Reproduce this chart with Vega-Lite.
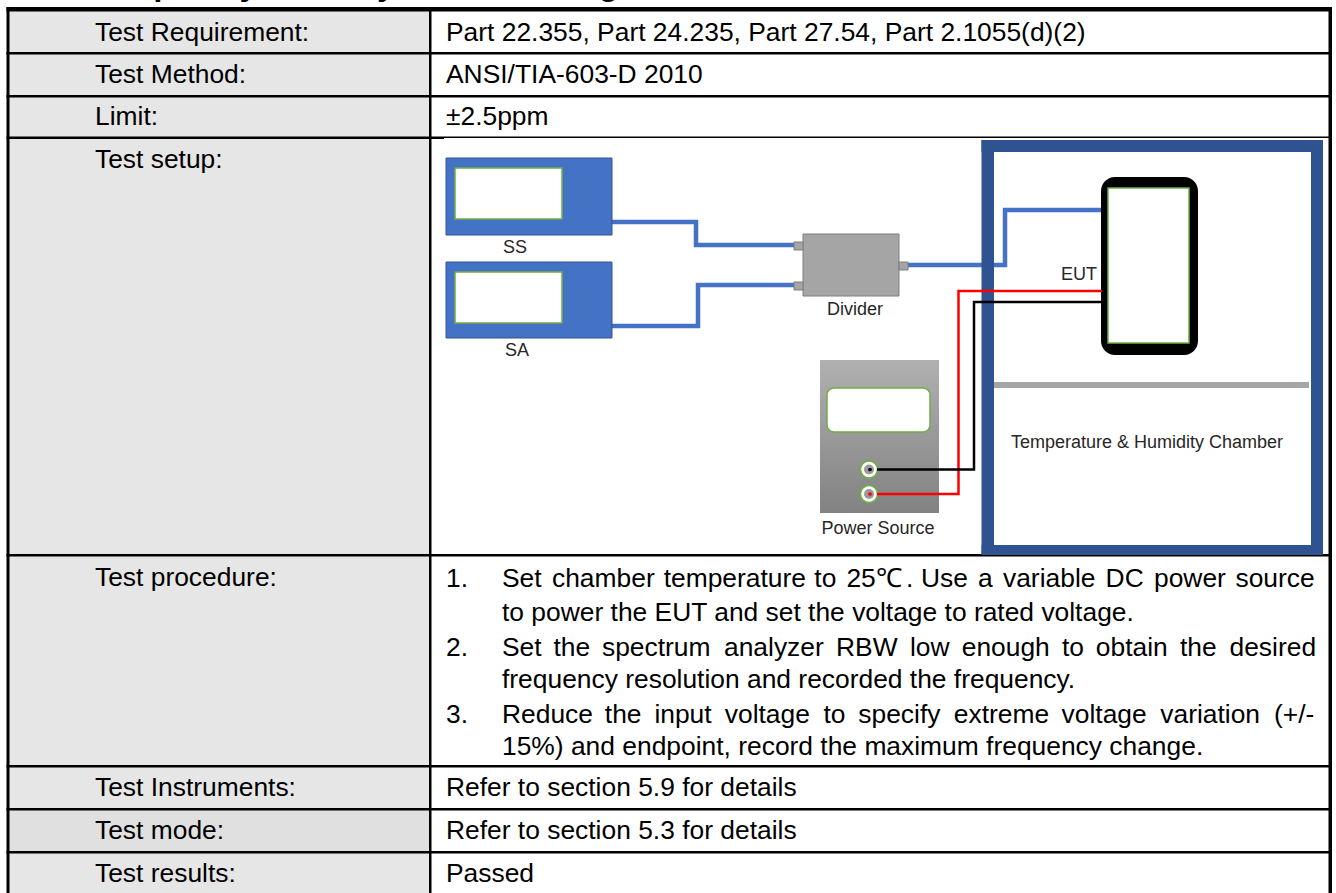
{"$schema":"https://vega.github.io/schema/vega-lite/v6.json","width":1336,"height":893,"autosize":{"type":"none"},"padding":0,"background":"white","view":{"stroke":null},
"datasets":{
"cells":[{"x":9,"x2":429,"y":11,"y2":893}],
"cellDark":[{"x":9,"x2":429,"y":810,"y2":852}],
"rules":[{"x":6.5,"x2":1332,"y":7,"y2":11.5},{"x":6.5,"x2":9.5,"y":7,"y2":893},{"x":1328.5,"x2":1332,"y":7,"y2":893},{"x":429,"x2":431.5,"y":7,"y2":893},{"x":6.5,"x2":1332,"y":52,"y2":54.5},{"x":6.5,"x2":1332,"y":95,"y2":97.5},{"x":6.5,"x2":444,"y":136.5,"y2":139},{"x":444,"x2":1332,"y":136.5,"y2":138},{"x":6.5,"x2":1332,"y":554,"y2":556.5},{"x":6.5,"x2":1332,"y":765,"y2":767.5},{"x":6.5,"x2":1332,"y":808,"y2":810.5},{"x":6.5,"x2":1332,"y":851,"y2":853.5}],
"blue":[{"id":"ss","i":1,"x":612,"y":222},{"id":"ss","i":2,"x":696,"y":222},{"id":"ss","i":3,"x":696,"y":245},{"id":"ss","i":4,"x":794,"y":245},{"id":"sa","i":1,"x":612,"y":326},{"id":"sa","i":2,"x":698,"y":326},{"id":"sa","i":3,"x":698,"y":285},{"id":"sa","i":4,"x":794,"y":285},{"id":"eut","i":1,"x":908,"y":265},{"id":"eut","i":2,"x":1005,"y":265},{"id":"eut","i":3,"x":1005,"y":210},{"id":"eut","i":4,"x":1102,"y":210}],
"frame":[{"x":981.5,"x2":1323,"y":140,"y2":152},{"x":981.5,"x2":1323,"y":545,"y2":555},{"x":981.5,"x2":994,"y":140,"y2":555},{"x":1311,"x2":1323,"y":140,"y2":555}],
"instruments":[{"x":446,"x2":612,"y":158,"y2":235},{"x":446,"x2":612,"y":262,"y2":338}],
"screens":[{"x":455,"x2":562,"y":168,"y2":219},{"x":455,"x2":562,"y":272,"y2":323}],
"greys":[{"x":803,"x2":899,"y":234,"y2":296},{"x":794,"x2":803,"y":242,"y2":250},{"x":794,"x2":803,"y":282,"y2":290},{"x":899,"x2":908,"y":262,"y2":270}],
"bar":[{"x":994,"x2":1309,"y":382,"y2":388}],
"phone":[{"x":1101,"x2":1198,"y":177,"y2":355}],
"phoneScreen":[{"x":1108,"x2":1189,"y":188,"y2":343}],
"power":[{"x":820,"x2":939,"y":360,"y2":513}],
"powerScreen":[{"x":827,"x2":930,"y":388,"y2":432}],
"redWire":[{"i":1,"x":1102,"y":291},{"i":2,"x":958.5,"y":291},{"i":3,"x":958.5,"y":494},{"i":4,"x":877,"y":494}],
"blackWire":[{"i":1,"x":1102,"y":302},{"i":2,"x":974,"y":302},{"i":3,"x":974,"y":469.5},{"i":4,"x":877,"y":469.5}],
"terminals":[{"x":869,"y":469.5},{"x":869,"y":494}],
"pinBlack":[{"x":870,"y":469.5}],
"pinRed":[{"x":870,"y":494}],
"title":[{"x":91,"y":-5,"t":"Frequency Stability versus Voltage"}],
"body":[{"x":95,"y":41,"t":"Test Requirement:"},{"x":95,"y":83,"t":"Test Method:"},{"x":95,"y":125,"t":"Limit:"},{"x":95,"y":168,"t":"Test setup:"},{"x":95,"y":586,"t":"Test procedure:"},{"x":95,"y":796,"t":"Test Instruments:"},{"x":95,"y":839,"t":"Test mode:"},{"x":95,"y":882,"t":"Test results:"},
{"x":446,"y":41,"t":"Part 22.355, Part 24.235, Part 27.54, Part 2.1055(d)(2)"},{"x":446,"y":83,"t":"ANSI/TIA-603-D 2010"},{"x":446,"y":125,"t":"±2.5ppm"},{"x":446,"y":796,"t":"Refer to section 5.9 for details"},{"x":446,"y":839,"t":"Refer to section 5.3 for details"},{"x":446,"y":882,"t":"Passed"},
{"x":446,"y":587,"t":"1."},{"x":502,"y":587,"t":"Set"},{"x":552,"y":587,"t":"chamber"},{"x":663.7,"y":587,"t":"temperature"},{"x":814.3,"y":587,"t":"to"},{"x":846.4,"y":587,"t":"25℃"},{"x":906,"y":587,"t":"."},{"x":921,"y":587,"t":"Use"},{"x":978,"y":587,"t":"a"},{"x":1003,"y":587,"t":"variable"},{"x":1105.6,"y":587,"t":"DC"},{"x":1154,"y":587,"t":"power"},{"x":1235.5,"y":587,"t":"source"},
{"x":502,"y":621,"t":"to power the EUT and set the voltage to rated voltage."},
{"x":446,"y":656,"t":"2."},{"x":502,"y":656,"t":"Set"},{"x":553.5,"y":656,"t":"the"},{"x":602,"y":656,"t":"spectrum"},{"x":724,"y":656,"t":"analyzer"},{"x":836,"y":656,"t":"RBW"},{"x":910,"y":656,"t":"low"},{"x":961.7,"y":656,"t":"enough"},{"x":1062,"y":656,"t":"to"},{"x":1095.8,"y":656,"t":"obtain"},{"x":1180,"y":656,"t":"the"},{"x":1229.5,"y":656,"t":"desired"},
{"x":502,"y":688,"t":"frequency resolution and recorded the frequency."},
{"x":446,"y":723,"t":"3."},{"x":502,"y":723,"t":"Reduce"},{"x":604.8,"y":723,"t":"the"},{"x":654.4,"y":723,"t":"input"},{"x":724.8,"y":723,"t":"voltage"},{"x":823.5,"y":723,"t":"to"},{"x":858.3,"y":723,"t":"specify"},{"x":953.8,"y":723,"t":"extreme"},{"x":1061.6,"y":723,"t":"voltage"},{"x":1160.3,"y":723,"t":"variation"},{"x":1274,"y":723,"t":"(+/-"},
{"x":502,"y":755,"t":"15%) and endpoint, record the maximum frequency change."}],
"captions":[{"x":515,"y":253,"t":"SS"},{"x":517,"y":356,"t":"SA"},{"x":855,"y":315,"t":"Divider"},{"x":1079,"y":280,"t":"EUT"},{"x":878,"y":534,"t":"Power Source"},{"x":1147,"y":448,"t":"Temperature & Humidity Chamber"}]
},
"encoding":{"x":{"field":"x","type":"quantitative","scale":{"domain":[0,1336],"nice":false,"zero":false},"axis":null},"y":{"field":"y","type":"quantitative","scale":{"domain":[893,0],"nice":false,"zero":false},"axis":null}},
"layer":[
{"data":{"name":"cells"},"mark":{"type":"rect","color":"#e6e6e6"},"encoding":{"x2":{"field":"x2"},"y2":{"field":"y2"}}},
{"data":{"name":"cellDark"},"mark":{"type":"rect","color":"#e0e0e0"},"encoding":{"x2":{"field":"x2"},"y2":{"field":"y2"}}},
{"data":{"name":"rules"},"mark":{"type":"rect","color":"#000000"},"encoding":{"x2":{"field":"x2"},"y2":{"field":"y2"}}},
{"data":{"name":"title"},"mark":{"type":"text","font":"Liberation Sans","fontWeight":"bold","fontSize":33,"align":"left","baseline":"alphabetic","color":"#000000"},"encoding":{"text":{"field":"t"}}},
{"data":{"name":"blue"},"mark":{"type":"line","color":"#4472c4","strokeWidth":4.5,"strokeJoin":"miter"},"encoding":{"detail":{"field":"id"},"order":{"field":"i"}}},
{"data":{"name":"frame"},"mark":{"type":"rect","color":"#2f5290"},"encoding":{"x2":{"field":"x2"},"y2":{"field":"y2"}}},
{"data":{"name":"bar"},"mark":{"type":"rect","color":"#a5a5a5"},"encoding":{"x2":{"field":"x2"},"y2":{"field":"y2"}}},
{"data":{"name":"instruments"},"mark":{"type":"rect","color":"#4472c4","stroke":"#2f5597","strokeWidth":1},"encoding":{"x2":{"field":"x2"},"y2":{"field":"y2"}}},
{"data":{"name":"screens"},"mark":{"type":"rect","color":"#ffffff","stroke":"#70ad47","strokeWidth":1.5},"encoding":{"x2":{"field":"x2"},"y2":{"field":"y2"}}},
{"data":{"name":"greys"},"mark":{"type":"rect","color":"#a5a5a5","stroke":"#7f7f7f","strokeWidth":1},"encoding":{"x2":{"field":"x2"},"y2":{"field":"y2"}}},
{"data":{"name":"phone"},"mark":{"type":"rect","color":"#000000","cornerRadius":14},"encoding":{"x2":{"field":"x2"},"y2":{"field":"y2"}}},
{"data":{"name":"phoneScreen"},"mark":{"type":"rect","color":"#ffffff","stroke":"#70ad47","strokeWidth":1.5},"encoding":{"x2":{"field":"x2"},"y2":{"field":"y2"}}},
{"data":{"name":"power"},"mark":{"type":"rect","color":{"gradient":"linear","x1":0,"y1":0,"x2":0,"y2":1,"stops":[{"offset":0,"color":"#b0b0b0"},{"offset":1,"color":"#828282"}]}},"encoding":{"x2":{"field":"x2"},"y2":{"field":"y2"}}},
{"data":{"name":"powerScreen"},"mark":{"type":"rect","color":"#ffffff","stroke":"#70ad47","strokeWidth":1.5,"cornerRadius":7},"encoding":{"x2":{"field":"x2"},"y2":{"field":"y2"}}},
{"data":{"name":"terminals"},"mark":{"type":"point","shape":"circle","filled":true,"color":"#70ad47","size":370,"opacity":1}},
{"data":{"name":"terminals"},"mark":{"type":"point","shape":"circle","filled":true,"color":"#ffffff","size":240,"opacity":1}},
{"data":{"name":"terminals"},"mark":{"type":"point","shape":"circle","filled":true,"color":"#9a9a9a","size":100,"opacity":1}},
{"data":{"name":"redWire"},"mark":{"type":"line","color":"#ff0000","strokeWidth":2.5,"strokeJoin":"miter"},"encoding":{"order":{"field":"i"}}},
{"data":{"name":"blackWire"},"mark":{"type":"line","color":"#000000","strokeWidth":2.5,"strokeJoin":"miter"},"encoding":{"order":{"field":"i"}}},
{"data":{"name":"pinBlack"},"mark":{"type":"point","shape":"circle","filled":true,"color":"#000000","size":14,"opacity":1}},
{"data":{"name":"pinRed"},"mark":{"type":"point","shape":"circle","filled":true,"color":"#ff0000","size":14,"opacity":1}},
{"data":{"name":"captions"},"mark":{"type":"text","font":"Liberation Sans","fontSize":18,"align":"center","baseline":"alphabetic","color":"#262626"},"encoding":{"text":{"field":"t"}}},
{"data":{"name":"body"},"mark":{"type":"text","font":"Liberation Sans","fontSize":26.4,"align":"left","baseline":"alphabetic","color":"#000000"},"encoding":{"text":{"field":"t"}}}
]}
